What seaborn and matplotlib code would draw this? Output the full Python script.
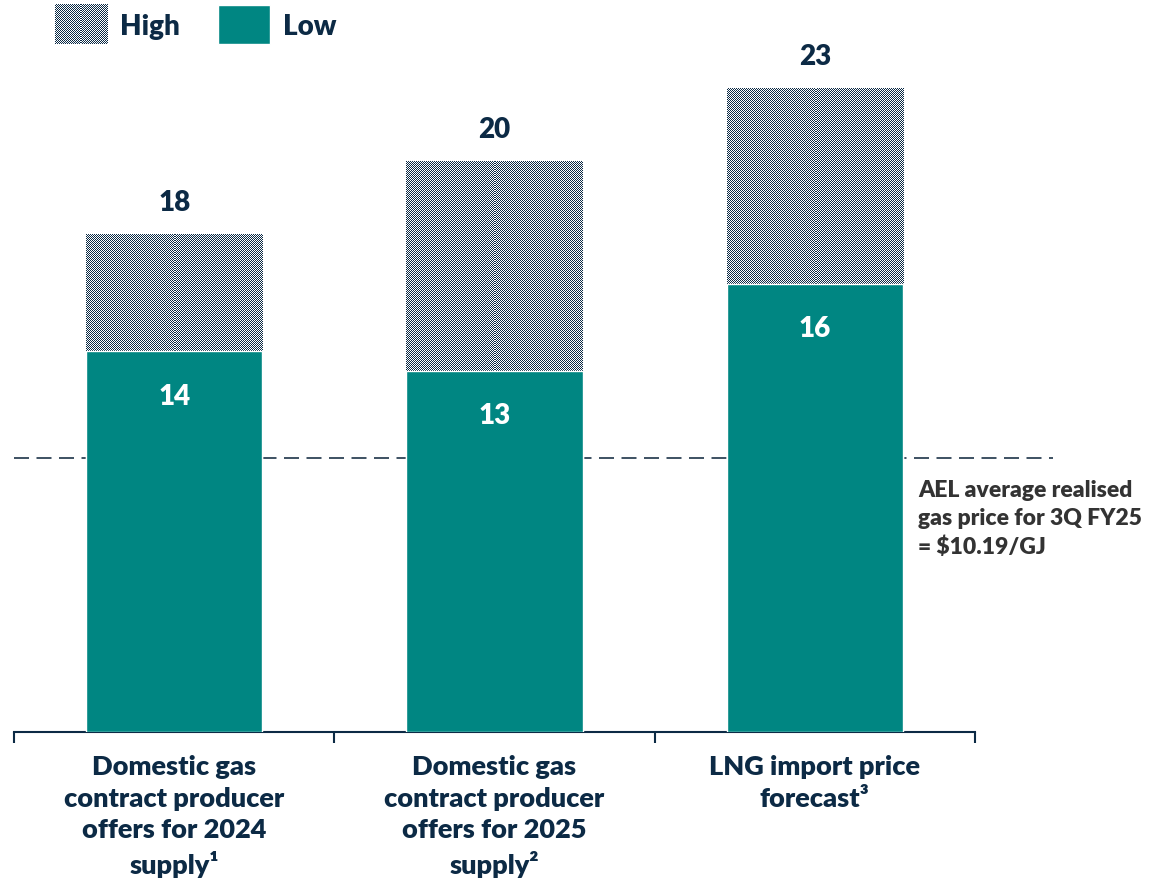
import numpy as np
import matplotlib
matplotlib.use("Agg")
import matplotlib.pyplot as plt
import seaborn as sns
from matplotlib.colors import ListedColormap, Normalize
from matplotlib.legend_handler import HandlerBase
from matplotlib.image import BboxImage
from matplotlib.transforms import Bbox, TransformedBbox
from matplotlib.patches import Patch

# données ($/GJ)
categories = ["Domestic gas\ncontract producer\noffers for 2024\nsupply¹",
              "Domestic gas\ncontract producer\noffers for 2025\nsupply²",
              "LNG import price\nforecast³"]
low = [13.6, 12.9, 16.0]
high = [17.8, 20.4, 23.0]
avg_price = 9.8
avg_label = "AEL average realised\ngas price for 3Q FY25\n= $10.19/GJ"

TEAL = "#008682"
NAVY = "#0c2a45"
GREY_TXT = "#333333"
WEIGHT = "heavy"

sns.set_theme(style="white")
plt.rcParams["font.family"] = ["Lato", "DejaVu Sans"]

checker_cmap = ListedColormap(["white", NAVY])


def checker(ny, nx):
    yy, xx = np.indices((ny, nx))
    return ((xx + yy) % 2).astype(float)


class CheckerHandler(HandlerBase):
    def create_artists(self, legend, orig_handle, xdescent, ydescent,
                       width, height, fontsize, trans):
        bb = TransformedBbox(Bbox.from_bounds(-xdescent, -ydescent, width, height), trans)
        img = BboxImage(bb, cmap=checker_cmap, norm=Normalize(0, 1), interpolation="nearest")
        img.set_data(checker(40, 54))
        return [img]


fig = plt.figure(figsize=(11.53, 8.87), dpi=100)
ax = fig.add_axes([14 / 1153, (887 - 733) / 887, 961 / 1153, 733 / 887])

sns.barplot(x=categories, y=high, color="white", width=0.55, saturation=1,
            ax=ax, zorder=1)
high_bars = list(ax.patches)
sns.barplot(x=categories, y=low, color=TEAL, width=0.55, saturation=1,
            ax=ax, zorder=3)
low_bars = ax.patches[len(high_bars):]

ax.set_xlim(-0.5, 2.5)
ax.set_ylim(0, 733 / 28)

# motif damier pour la partie "High"
fig.canvas.draw()
for p in high_bars:
    x0, y0 = p.get_x(), p.get_y()
    x1, y1 = x0 + p.get_width(), y0 + p.get_height()
    (px0, py0), (px1, py1) = ax.transData.transform([(x0, y0), (x1, y1)])
    nx, ny = int(round(px1 - px0)), int(round(py1 - py0))
    im = ax.imshow(checker(ny, nx), cmap=checker_cmap, norm=Normalize(0, 1),
                   extent=(x0, x1, y0, y1), interpolation="nearest",
                   aspect="auto", zorder=2)
    im.set_clip_path(p)
ax.set_xlim(-0.5, 2.5)
ax.set_ylim(0, 733 / 28)

# étiquettes de valeurs
for p, v in zip(high_bars, high):
    ax.annotate(f"{v:.0f}", (p.get_x() + p.get_width() / 2, v), xytext=(0, 23),
                textcoords="offset points", ha="center", va="center",
                fontsize=20, fontweight=WEIGHT, color=NAVY)
for p, v in zip(low_bars, low):
    ax.annotate(f"{v:.0f}", (p.get_x() + p.get_width() / 2, v), xytext=(0, -32),
                textcoords="offset points", ha="center", va="center",
                fontsize=20, fontweight=WEIGHT, color="white", zorder=5)

# ligne prix moyen
ax.plot([0, 1.081], [avg_price, avg_price], transform=ax.get_yaxis_transform(),
        color="#1d3448", lw=1.2, ls=(0, (9, 4.5)), clip_on=False, zorder=0.5)
ax.text(0.941, avg_price - 0.75, avg_label, transform=ax.get_yaxis_transform(),
        ha="left", va="top", fontsize=16.5, fontweight=WEIGHT, color=GREY_TXT,
        linespacing=1.42)

# axes
sns.despine(ax=ax, left=True, top=True, right=True)
ax.spines["bottom"].set_color(NAVY)
ax.spines["bottom"].set_linewidth(1.5)
ax.set_yticks([])
ax.set_xticks([-0.5, 0.5, 1.5, 2.5], minor=True)
ax.tick_params(axis="x", which="minor", bottom=True, length=8, width=1.5,
               color=NAVY, direction="out")
ax.tick_params(axis="x", which="major", length=0, pad=16)
for lbl in ax.get_xticklabels():
    lbl.set_fontsize(19.5)
    lbl.set_fontweight(WEIGHT)
    lbl.set_color(NAVY)
    lbl.set_linespacing(1.38)
    lbl.set_va("top")

# légende
handles = [Patch(label="High"), Patch(facecolor=TEAL, label="Low")]
fig.legend(handles=handles, labels=["High", "Low"], loc="upper left",
           bbox_to_anchor=(55 / 1153, 1 - 6 / 887), ncol=2, frameon=False,
           handler_map={handles[0]: CheckerHandler()},
           handlelength=1.9, handleheight=1.8, handletextpad=0.45,
           columnspacing=1.35, borderaxespad=0, borderpad=0,
           prop={"weight": WEIGHT, "size": 20}, labelcolor=NAVY)

fig.savefig("out.png", dpi=100)
